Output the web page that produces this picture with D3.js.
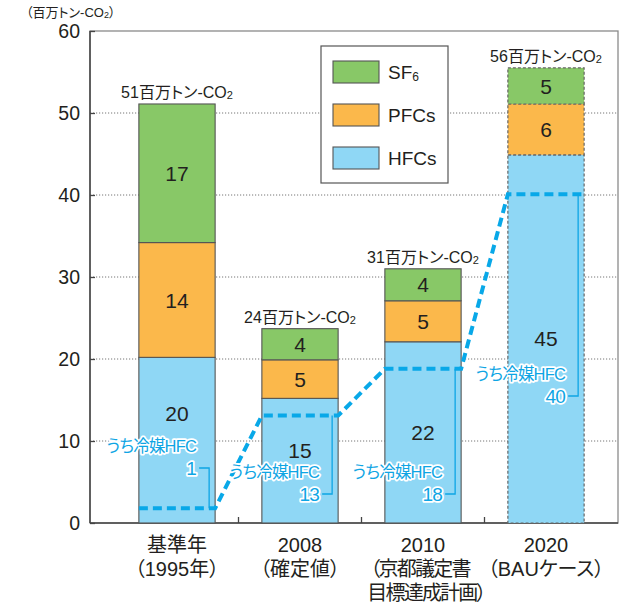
<!DOCTYPE html>
<html><head><meta charset="utf-8">
<script src="https://cdn.jsdelivr.net/npm/d3@7"></script>
<style>
body{margin:0;background:#fff;}
svg{display:block;font-family:"Liberation Sans","Noto Sans CJK JP",sans-serif;font-feature-settings:"palt";}
</style></head>
<body>
<svg id="c" width="637" height="608"></svg>
<script>
// ---- data ----
const categories = ["基準年", "2008", "2010", "2020"];
const categoryLines = [["基準年", "（1995年）"], ["2008", "（確定値）"], ["2010", "（京都議定書", "目標達成計画）"], ["2020", "（BAUケース）"]];
const seriesNames = ["HFCs", "PFCs", "SF6"];
const hfcValues = [20.2, 15.2, 22.1, 44.9];
const pfcValues = [14.0, 4.7, 5.0, 6.2];
const sf6Values = [16.9, 3.8, 3.9, 4.4];
const hfcLabels = ["20", "15", "22", "45"];
const pfcLabels = ["14", "5", "5", "6"];
const sf6Labels = ["17", "4", "4", "5"];
const totalLabels = ["51", "24", "31", "56"];
const refrigerantValues = [1.8, 13.1, 18.8, 40.1];
const refrigerantLabels = ["1", "13", "18", "40"];
const yTicks = [0, 10, 20, 30, 40, 50, 60];
const projected = [false, false, false, true];

// ---- layout ----
const W = 637, H = 608;
const L = 90, R = 618, T = 31, B = 523;
const colors = {HFCs: "#8fd7f5", PFCs: "#fbb84b", SF6: "#88c867"};
const cyan = "#0ea5e4";
const ink = "#231f20";
const svg = d3.select("#c");

const y = d3.scaleLinear().domain([0, 60]).range([B, T]);
const x = d3.scaleBand().domain(categories).range([115.5, 607.5]).paddingInner(0.38).paddingOuter(0.19);
const bw = x.bandwidth();

// gridlines
svg.append("g").selectAll("line").data(yTicks.filter(t => t > 0 && t < 60)).join("line")
  .attr("x1", L).attr("x2", R).attr("y1", d => y(d)).attr("y2", d => y(d))
  .attr("stroke", "#777").attr("stroke-width", 1).attr("stroke-dasharray", "1.2,1.8");

// frame
svg.append("rect").attr("x", L).attr("y", T).attr("width", R - L).attr("height", B - T)
  .attr("fill", "none").attr("stroke", "#8a8a8a").attr("stroke-width", 1.3);
svg.append("line").attr("x1", L).attr("x2", L).attr("y1", T).attr("y2", B).attr("stroke", "#444").attr("stroke-width", 1.5);
svg.append("line").attr("x1", L).attr("x2", R).attr("y1", B).attr("y2", B).attr("stroke", "#444").attr("stroke-width", 1.5);

// y axis ticks + labels
const yAxis = d3.axisLeft(y).tickValues(yTicks).tickSizeInner(-5).tickSizeOuter(0).tickPadding(10);
const ga = svg.append("g").attr("transform", `translate(${L},0)`).call(yAxis);
ga.select(".domain").remove();
ga.selectAll(".tick line").attr("stroke", "#444").attr("stroke-width", 1.3);
ga.selectAll(".tick text").attr("font-size", 19.5).attr("fill", ink)
  .attr("font-family", "Liberation Sans, sans-serif");

// category boundary ticks
const step = x.step();
svg.append("g").selectAll("line").data(categories.slice(1)).join("line")
  .attr("x1", d => x(d) - (step - bw) / 2).attr("x2", d => x(d) - (step - bw) / 2)
  .attr("y1", B - 6).attr("y2", B).attr("stroke", "#444").attr("stroke-width", 1.3);

// stacked bars
const rows = categories.map((c, i) => ({cat: c, HFCs: hfcValues[i], PFCs: pfcValues[i], SF6: sf6Values[i], i}));
const stacked = d3.stack().keys(seriesNames)(rows);
const segLabels = {HFCs: hfcLabels, PFCs: pfcLabels, SF6: sf6Labels};
const hfcLabelShift = [-27, -10, 0, 0];

stacked.forEach(layer => {
  const g = svg.append("g");
  g.selectAll("rect").data(layer).join("rect")
    .attr("x", d => x(d.data.cat)).attr("width", bw)
    .attr("y", d => y(d[1])).attr("height", d => y(d[0]) - y(d[1]))
    .attr("fill", colors[layer.key])
    .attr("stroke", d => projected[d.data.i] ? "#666" : "#555")
    .attr("stroke-width", d => projected[d.data.i] ? 1.2 : 1.1)
    .attr("stroke-dasharray", d => projected[d.data.i] ? "3,2" : null);
  g.selectAll("text").data(layer).join("text")
    .attr("x", d => x(d.data.cat) + bw / 2)
    .attr("y", d => (y(d[0]) + y(d[1])) / 2 + (layer.key === "HFCs" ? hfcLabelShift[d.data.i] : 0))
    .attr("dy", "0.36em").attr("text-anchor", "middle")
    .attr("font-size", 21).attr("fill", ink)
    .text(d => segLabels[layer.key][d.data.i]);
});

// totals
const topLayer = stacked[stacked.length - 1];
const tl = svg.append("g").selectAll("text").data(topLayer).join("text")
  .attr("x", d => x(d.data.cat) + bw / 2).attr("y", d => y(d[1]) - 6)
  .attr("text-anchor", "middle").attr("font-size", 16).attr("fill", ink);
tl.append("tspan").text(d => totalLabels[d.data.i] + "百万トン-CO");
tl.append("tspan").attr("font-size", 11).attr("dy", 1).text("2");

// refrigerant dashed line
const pts = [];
categories.forEach((c, i) => {
  pts.push([x(c), y(refrigerantValues[i])]);
  pts.push([x(c) + bw, y(refrigerantValues[i])]);
});
svg.append("path").attr("d", d3.line()(pts)).attr("fill", "none")
  .attr("stroke", "#08a8e8").attr("stroke-width", 4).attr("stroke-dasharray", "9,5");

// brackets and annotation labels
const numY = [468, 494, 494, 396];
categories.forEach((c, i) => {
  const bx = x(c) + bw - 6;
  const ly = y(refrigerantValues[i]);
  svg.append("path").attr("d", `M${bx - 10},${numY[i]}H${bx}V${ly}`)
    .attr("fill", "none").attr("stroke", cyan).attr("stroke-width", 1.3);
  const t = svg.append("g").attr("fill", cyan)
    .attr("text-anchor", "end").attr("stroke", "#fff").attr("stroke-width", 3.5)
    .attr("stroke-linejoin", "round").attr("paint-order", "stroke");
  t.append("text").attr("x", bx - 13).attr("y", numY[i] - 22).attr("dy", "0.36em")
    .attr("font-size", 16.5).attr("letter-spacing", -0.8).text("うち冷媒HFC");
  t.append("text").attr("x", bx - 13).attr("y", numY[i]).attr("dy", "0.36em")
    .attr("font-size", 19).attr("letter-spacing", -0.8).text(refrigerantLabels[i]);
});

// category labels
const cl = svg.append("g").attr("font-size", 20).attr("fill", ink).attr("text-anchor", "middle");
categories.forEach((c, i) => {
  categoryLines[i].forEach((line, j) => {
    const tight = i === 2 && j > 0;
    const shift = (i === 2 && j === 1) ? -3 : (i === 2 && j === 2) ? 3 : 0;
    cl.append("text").attr("x", x(c) + bw / 2 + shift).attr("y", 545 + j * 24)
      .attr("dy", "0.36em").attr("letter-spacing", tight ? -1.8 : 0).text(line);
  });
});

// unit label
const ul = svg.append("text").attr("x", 26).attr("y", 17).attr("font-size", 13).attr("fill", ink);
ul.append("tspan").text("（百万トン-CO");
ul.append("tspan").attr("font-size", 9).attr("dy", 1).text("2");
ul.append("tspan").attr("dy", -1).text("）");

// legend
const lg = svg.append("g");
lg.append("rect").attr("x", 321).attr("y", 46).attr("width", 127).attr("height", 137)
  .attr("fill", "#fff").attr("stroke", "#555").attr("stroke-width", 1.2);
const legendItems = ["SF6", "PFCs", "HFCs"];
legendItems.forEach((k, j) => {
  const yy = 61 + j * 43;
  lg.append("rect").attr("x", 333).attr("y", yy).attr("width", 46).attr("height", 22)
    .attr("fill", colors[k]).attr("stroke", "#555").attr("stroke-width", 1.1);
  const t = lg.append("text").attr("x", 388).attr("y", yy + 11).attr("dy", "0.36em")
    .attr("font-size", 19).attr("fill", ink);
  if (k === "SF6") {
    t.append("tspan").text("SF");
    t.append("tspan").attr("font-size", 12).attr("dy", 2).text("6");
  } else t.text(k);
});
</script>
</body></html>
